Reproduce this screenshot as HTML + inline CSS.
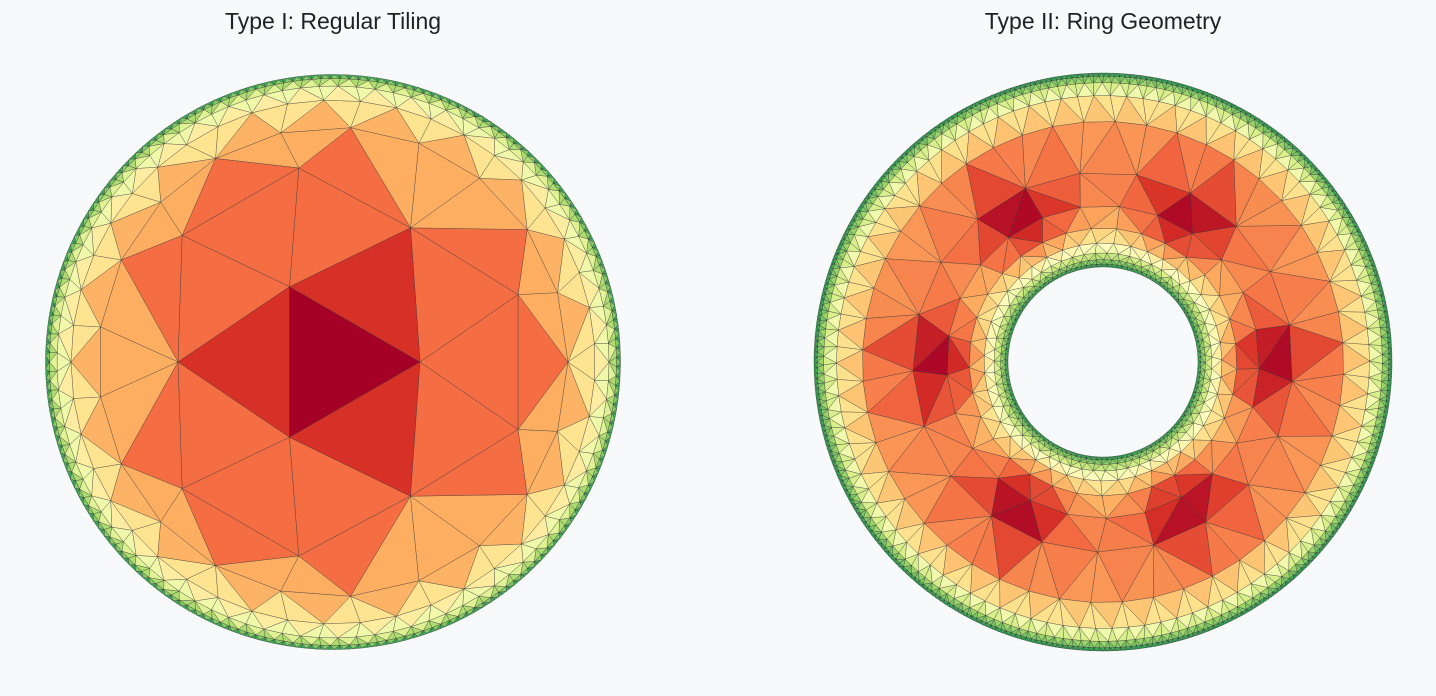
<!DOCTYPE html>
<html><head><meta charset="utf-8">
<style>
html,body{margin:0;padding:0;background:#f8f9fa;}
#wrap{position:relative;width:1436px;height:696px;overflow:hidden;}
.t{position:absolute;top:8px;font-family:"Liberation Sans","DejaVu Sans",sans-serif;font-size:23px;color:#222;transform:translateX(-50%);white-space:nowrap;}
svg{position:absolute;left:0;top:0;}
</style></head>
<body><div id="wrap">
<div class="t" style="left:333px">Type I: Regular Tiling</div>
<div class="t" style="left:1103px">Type II: Ring Geometry</div>
<svg id="s" width="1436" height="696" viewBox="0 0 1436 696"></svg>
</div>
<script>
var stops=["#a50026","#d73027","#f46d43","#fdae61","#fee08b","#ffffbf","#d9ef8b","#a6d96a","#66bd63","#1a9850","#006837"];
function hx(h){return [parseInt(h.substr(1,2),16),parseInt(h.substr(3,2),16),parseInt(h.substr(5,2),16)];}
var S=stops.map(hx);
function cmap(t){t=Math.max(0,Math.min(1,t));var f=t*10,i=Math.min(9,Math.floor(f)),u=f-i;var a=S[i],b=S[i+1];
return "rgb("+[0,1,2].map(function(k){return Math.round(a[k]+(b[k]-a[k])*u)}).join(",")+")";}
var out=[];
function tri(p,q,r,c){out.push('<polygon points="'+p[0].toFixed(1)+','+p[1].toFixed(1)+' '+q[0].toFixed(1)+','+q[1].toFixed(1)+' '+r[0].toFixed(1)+','+r[1].toFixed(1)+'" fill="'+c+'"/>');}
function ring(cx,cy,r,n,off,rf){var a=[];for(var k=0;k<n;k++){var an=off+k*2*Math.PI/n;var rr=rf?rf(k):r;a.push([cx+rr*Math.cos(an),cy-rr*Math.sin(an)]);}return a;}
function dist(a,b){return Math.hypot(a[0]-b[0],a[1]-b[1]);}
function merge(A,offA,B,offB,cb){var nA=A.length,nB=B.length,dB=2*Math.PI/nB;
var j0=Math.round((offA-offB)/dB);var ia=0,ib=0;
function PA(k){return A[((k%nA)+nA)%nA];}function PB(k){return B[(((j0+k)%nB)+nB)%nB];}
while(ia<nA||ib<nB){
 var advA;
 if(ia>=nA)advA=false;else if(ib>=nB)advA=true;
 else advA=dist(PA(ia+1),PB(ib))<dist(PA(ia),PB(ib+1));
 if(advA){cb(PA(ia),PA(ia+1),PB(ib),2);ia++;}
 else{cb(PA(ia),PB(ib),PB(ib+1),1);ib++;}
}}
// Left disc
(function(){var cx=333,cy=362;
var R=[87,190,235,262,276,283.5,287.5],N=[3,9,21,45,93,189,381];
var T=[0,0.1,0.2,0.31,0.44,0.58,0.75];
var rings=[],offs=[];
for(var i=0;i<R.length;i++){var off=(i==1?Math.PI/3:(i==0?0:Math.PI/N[i]*(i%2)));offs.push(off);
 rings.push(ring(cx,cy,R[i],N[i],off,i==1?function(k){return k%3==0?155:197;}:null));}
tri(rings[0][0],rings[0][1],rings[0][2],cmap(0.0));
for(var i=1;i<R.length;i++){(function(i){merge(rings[i-1],offs[i-1],rings[i],offs[i],function(p,q,r,type){
 var t=T[i]+(type==2?0:0.1);tri(p,q,r,cmap(t));});})(i);}
})();
// Right annulus
(function(){var cx=1103,cy=362,r0=95,r1=289;
var rs=[r0],r=r0;
function sp(d){return 3+0.5*d;}
while(r<r1){var d=Math.min(r-r0,r1-r);r+=sp(d);rs.push(r);}
var sc=(r1-r0)/(rs[rs.length-1]-r0);rs=rs.map(function(x){return r0+(x-r0)*sc;});
var rings=[],offs=[];
for(var i=0;i<rs.length;i++){var d=Math.min(rs[i]-r0,r1-rs[i]);var s=sp(d)*1.15;var n=Math.max(12,Math.round(2*Math.PI*rs[i]/s));
var off=i*0.37;offs.push(off);rings.push(ring(cx,cy,rs[i],n,off));}
var hs=[];for(var k=0;k<6;k++){var an=(k*60)*Math.PI/180;hs.push([cx+165*Math.cos(an),cy-165*Math.sin(an)]);}
for(var i=1;i<rings.length;i++){merge(rings[i-1],offs[i-1],rings[i],offs[i],function(p,q,w){
 var gx=(p[0]+q[0]+w[0])/3,gy=(p[1]+q[1]+w[1])/3;var rr=Math.hypot(gx-cx,gy-cy);
 var d=Math.min(rr-r0,r1-rr);var t=0.9-0.68*(1-Math.exp(-d/24));
 var h=1e9;hs.forEach(function(c){h=Math.min(h,Math.hypot(gx-c[0],gy-c[1]));});
 t-=0.24*Math.exp(-(h/45)*(h/45));
 tri(p,q,w,cmap(t));});}
})();
document.getElementById("s").innerHTML='<g stroke="#333" stroke-width="0.4" stroke-opacity="0.85" stroke-linejoin="round">'+out.join("")+'</g>';
</script>
</body></html>
